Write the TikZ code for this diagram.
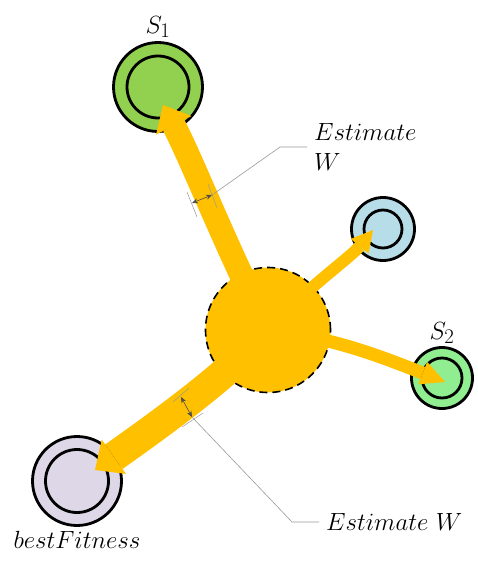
\documentclass[tikz,border=0pt]{standalone}
\usepackage{tikz}
\usetikzlibrary{arrows.meta,positioning,calc}
\definecolor{hubcol}{RGB}{255,192,0}
\definecolor{s1col}{RGB}{146,208,80}
\definecolor{sxcol}{RGB}{183,222,232}
\definecolor{s2col}{RGB}{144,238,144}
\definecolor{bestcol}{RGB}{221,215,232}
\tikzset{
  % solution ring: outer circle
  ring/.style={circle, draw=black, line width=2.8pt, fill=#1, inner sep=0pt},
  ring/.default={white},
  % inner circle of a ring
  inring/.style={circle, draw=black, line width=2.8pt, inner sep=0pt},
  % central hub
  hubnode/.style={circle, draw=black, dash pattern=on 8pt off 5pt, line width=1.6pt,
                  fill=hubcol, minimum size=125pt, inner sep=0pt},
  % fat move arrow: shaft width, head length, head width
  fatarrow/.style n args={3}{draw=hubcol, line width=#1,
                  -{Triangle[length=#2, width=#3, line width=0pt]}},
  % label text
  lbl/.style={font=\fontsize{24.88}{30}\selectfont, inner sep=1pt},
  % width measure
  measure/.style={draw=black!70, line width=0.6pt,
                  {Stealth[length=6pt,width=5pt]}-{Stealth[length=6pt,width=5pt]}},
  % edge tick of a measure
  edgetick/.style={draw=black!40, line width=0.5pt},
  % leader line to a label
  leader/.style={draw=black!40, line width=0.6pt, shorten >=6pt},
}

\begin{document}
\begin{tikzpicture}[x=1pt, y=-1pt]
  \useasboundingbox (0,0) rectangle (477,580);

  % ═══════ HUB AND SOLUTIONS ═══════
  \node[hubnode] (hub) at (268,330) {};
  \node[ring=s1col, minimum size=89pt] (s1) at (158,87) {};
  \node[inring, minimum size=62pt] (s1in) at (s1) {};
  \node[ring=sxcol, minimum size=63pt] (sx) at (383,229) {};
  \node[inring, minimum size=38pt] (sxin) at (sx) {};
  \node[ring=s2col, minimum size=61pt] (s2) at (442,378) {};
  \node[inring, minimum size=40pt] (s2in) at (s2) {};
  \node[ring=bestcol, minimum size=89pt] (best) at (77,481) {};
  \node[inring, minimum size=63pt] (bestin) at (best) {};

  % labels
  \node[lbl, above=2pt of s1] (s1lbl) {$S_1$};
  \node[lbl, above=1pt of s2] (s2lbl) {$S_2$};
  \node[lbl, below=3pt of best] (bestlbl) {$bestFitness$};

  % arrow tips sit a little off the centres
  \coordinate (s1tip) at ([shift={(5,18)}]s1.center);
  \coordinate (sxtip) at ([shift={(-10,1)}]sx.center);
  \coordinate (s2tip) at ([shift={(3,4)}]s2.center);
  \coordinate (besttip) at ([shift={(18,-11)}]best.center);

  % ═══════ MOVES ═══════
  \draw[fatarrow={24pt}{23pt}{40pt}]
    (hub.center) .. controls (225,245) and (192,160) .. (s1tip);
  \draw[fatarrow={12pt}{21pt}{23pt}]
    (hub.center) .. controls (310,285) and (350,258) .. (sxtip);
  \draw[fatarrow={13pt}{24pt}{24pt}]
    (hub.center) .. controls (330,338) and (370,352) .. (s2tip);
  \draw[fatarrow={30pt}{23pt}{42pt}]
    (hub.center) .. controls (235,368) and (180,410) .. (besttip);

  % ═══════ WIDTH ESTIMATES ═══════
  \coordinate (m1a) at (192,203);
  \coordinate (m1b) at (212,195);
  \draw[edgetick] (m1a) ++(-5,-11) -- ++(10,25);
  \draw[edgetick] (m1b) ++(-4,-11) -- ++(9,24);
  \draw[measure] (m1a) -- (m1b);
  \node[lbl, anchor=west, align=left] (est1) at (313,147) {$Estimate$\\$W$};
  \draw[leader] (m1b) -- ([xshift=-33pt]est1.west) -- (est1.west);

  \coordinate (m2a) at (181,397);
  \coordinate (m2b) at (192,417);
  \draw[edgetick] (m2a) ++(-8,5) -- ++(16,-14);
  \draw[edgetick] (m2b) ++(-10,10) -- ++(21,-14);
  \draw[measure] (m2a) -- (m2b);
  \node[lbl, anchor=west] (est2) at (325,522) {$Estimate\ W$};
  \draw[leader] (m2b) -- ([xshift=-33pt]est2.west) -- (est2.west);

\end{tikzpicture}
\end{document}
